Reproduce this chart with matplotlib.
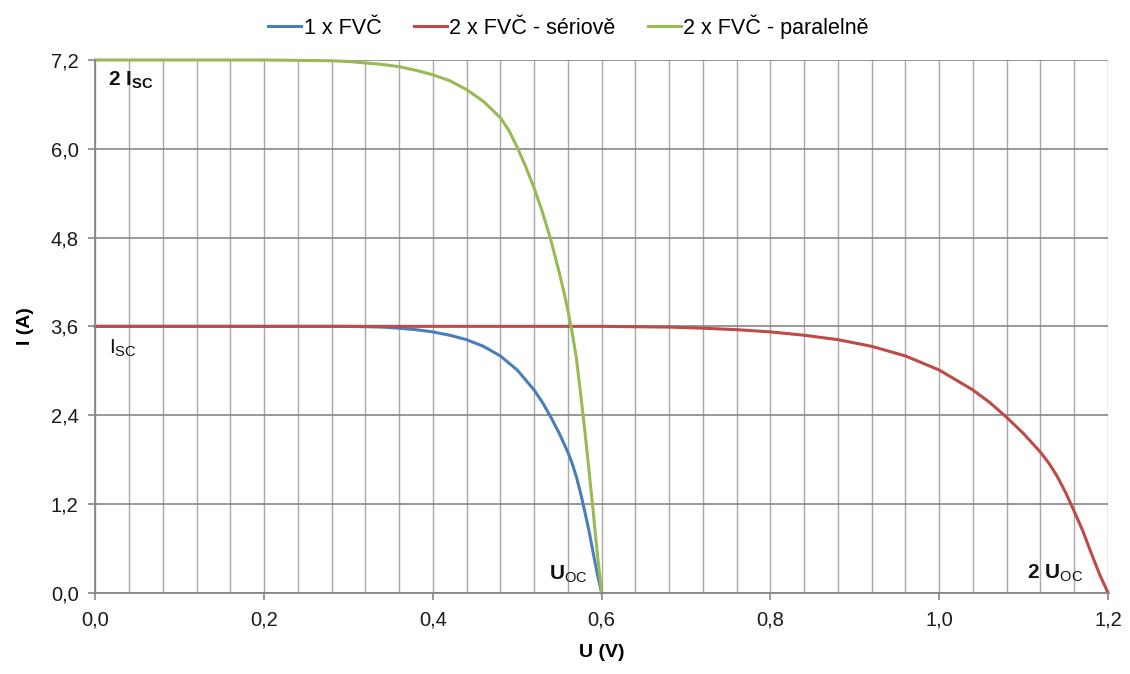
import matplotlib
matplotlib.use("Agg")
import matplotlib.pyplot as plt
from matplotlib.ticker import FixedLocator, MultipleLocator

# ---- data ----
u_single = [0.0, 0.10, 0.20, 0.28, 0.30, 0.32, 0.34, 0.36, 0.38, 0.40, 0.42, 0.44,
            0.46, 0.48, 0.50, 0.52, 0.53, 0.54, 0.55, 0.56, 0.565, 0.57, 0.575,
            0.58, 0.585, 0.59, 0.595, 0.600]
i_single = [3.60, 3.60, 3.60, 3.60, 3.60, 3.595, 3.59, 3.575, 3.555, 3.525, 3.48, 3.42,
            3.33, 3.20, 3.01, 2.74, 2.57, 2.37, 2.15, 1.90, 1.75, 1.57, 1.35,
            1.10, 0.84, 0.54, 0.25, 0.00]

u_series = [0.0, 0.20, 0.40, 0.56, 0.60, 0.64, 0.68, 0.72, 0.76, 0.80, 0.84, 0.88,
            0.92, 0.96, 1.00, 1.04, 1.06, 1.08, 1.10, 1.12, 1.13, 1.14, 1.15,
            1.16, 1.17, 1.18, 1.19, 1.20]
i_series = [3.60, 3.60, 3.60, 3.60, 3.60, 3.595, 3.59, 3.575, 3.555, 3.525, 3.48, 3.42,
            3.33, 3.20, 3.01, 2.74, 2.57, 2.37, 2.15, 1.90, 1.75, 1.57, 1.35,
            1.10, 0.84, 0.54, 0.25, 0.00]

u_parallel = [0.0, 0.10, 0.20, 0.28, 0.30, 0.32, 0.34, 0.36, 0.38, 0.40, 0.42, 0.44,
              0.46, 0.48, 0.49, 0.50, 0.51, 0.52, 0.53, 0.54, 0.55, 0.555, 0.56,
              0.565, 0.57, 0.575, 0.58, 0.585, 0.59, 0.595, 0.600]
i_parallel = [7.20, 7.20, 7.20, 7.19, 7.18, 7.16, 7.14, 7.11, 7.06, 7.00, 6.92, 6.80,
              6.64, 6.42, 6.25, 6.02, 5.76, 5.47, 5.14, 4.76, 4.32, 4.08, 3.82,
              3.52, 3.18, 2.70, 2.20, 1.66, 1.10, 0.52, 0.00]

series_labels = ["1 x FVČ", "2 x FVČ - sériově", "2 x FVČ - paralelně"]
series_colors = ["#4A7EBB", "#BE4B48", "#98B954"]

x_ticks = [0.0, 0.2, 0.4, 0.6, 0.8, 1.0, 1.2]
y_ticks = [0.0, 1.2, 2.4, 3.6, 4.8, 6.0, 7.2]
x_ticklabels = ["0,0", "0,2", "0,4", "0,6", "0,8", "1,0", "1,2"]
y_ticklabels = ["0,0", "1,2", "2,4", "3,6", "4,8", "6,0", "7,2"]

plt.rcParams['font.family'] = ['Liberation Sans', 'DejaVu Sans']
plt.rcParams['mathtext.fontset'] = 'custom'
plt.rcParams['mathtext.rm'] = 'Liberation Sans'
plt.rcParams['mathtext.bf'] = 'Liberation Sans:bold'
plt.rcParams['mathtext.it'] = 'Liberation Sans'

fig = plt.figure(figsize=(11.30, 6.74), dpi=100)
ax = fig.add_axes([0.0843, 0.1206, 0.8962, 0.7904])

grid_h = "#868686"
grid_v = "#A8A8A8"

ax.set_xlim(0, 1.2)
ax.set_ylim(0, 7.2)
ax.xaxis.set_major_locator(FixedLocator(x_ticks))
ax.yaxis.set_major_locator(FixedLocator(y_ticks))
ax.xaxis.set_minor_locator(MultipleLocator(0.04))
ax.set_xticklabels(x_ticklabels)
ax.set_yticklabels(y_ticklabels)

ax.grid(True, axis='x', which='both', color=grid_v, linewidth=1.0)
ax.grid(True, axis='y', which='major', color=grid_h, linewidth=1.2)
ax.set_axisbelow(True)

for s in ['top', 'right']:
    ax.spines[s].set_visible(False)
for s in ['left', 'bottom']:
    ax.spines[s].set_color(grid_h)
    ax.spines[s].set_linewidth(1.3)

ax.tick_params(axis='both', which='major', direction='out', length=5, width=1.2,
               color=grid_h, labelsize=14.5, labelcolor='#1a1a1a')
ax.tick_params(axis='x', which='minor', length=0)
ax.tick_params(axis='x', pad=8)
ax.tick_params(axis='y', pad=7)

lines = []
for u, i, c, lab in [(u_single, i_single, series_colors[0], series_labels[0]),
                     (u_series, i_series, series_colors[1], series_labels[1]),
                     (u_parallel, i_parallel, series_colors[2], series_labels[2])]:
    ln, = ax.plot(u, i, color=c, linewidth=2.2, label=lab, solid_joinstyle='round',
                  clip_on=False)
    lines.append(ln)

ax.set_xlabel("U (V)", fontsize=14, fontweight='bold', labelpad=10)
ax.set_ylabel("I (A)", fontsize=14, fontweight='bold', labelpad=12)

fig.legend(handles=lines, labels=series_labels, loc='center', bbox_to_anchor=(0.503, 0.961),
           ncol=3, frameon=False, fontsize=15.5, handlelength=1.55, handletextpad=0.1,
           columnspacing=1.5)

ax.text(0.015, 7.07, r"$\mathbf{2\ I}_{\mathbf{SC}}$", fontsize=15, ha='left', va='top', color='#111111')
ax.text(0.016, 3.45, r"$\mathrm{I}_{\mathrm{SC}}$", fontsize=15, ha='left', va='top', color='#111111')
ax.text(0.583, 0.10, r"$\mathbf{U}_{\mathrm{OC}}$", fontsize=15, ha='right', va='bottom', color='#111111')
ax.text(1.171, 0.12, r"$\mathbf{2\ U}_{\mathrm{OC}}$", fontsize=15, ha='right', va='bottom', color='#111111')

fig.savefig("out.png", dpi=100)
